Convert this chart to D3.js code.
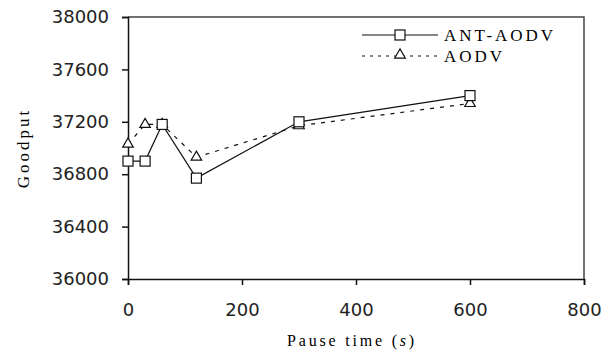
<!DOCTYPE html>
<html>
<head>
<meta charset="utf-8">
<script src="https://cdn.jsdelivr.net/npm/d3@7"></script>
<style>
  body { margin: 0; background: #fff; }
  .tick text { font-family: "DejaVu Sans", Tahoma, sans-serif; font-size: 18px; fill: #222; }
</style>
</head>
<body>
<div id="chart"></div>
<script>
const pauseTimes = [0, 30, 60, 120, 300, 600];
const antAodv = [36900, 36900, 37180, 36770, 37200, 37400];
const aodv = [37030, 37180, 37180, 36930, 37170, 37340];
const xTicks = [0, 200, 400, 600, 800];
const yTicks = [36000, 36400, 36800, 37200, 37600, 38000];

const width = 612, height = 354;
const margin = {top: 17, right: 28, bottom: 75, left: 128};

const svg = d3.select("#chart")
  .append("svg")
  .attr("width", width)
  .attr("height", height);

const x = d3.scaleLinear()
  .domain([0, 800])
  .range([margin.left, width - margin.right]);

const y = d3.scaleLinear()
  .domain([36000, 38000])
  .range([height - margin.bottom, margin.top]);

// frame top + right
svg.append("path")
  .attr("d", `M${x(0)},${y(38000)}H${x(800)}V${y(36000)}`)
  .attr("fill", "none")
  .attr("stroke", "#444")
  .attr("stroke-width", 1.5);

// axes
svg.append("g")
  .attr("transform", `translate(0, ${y(36000)})`)
  .call(d3.axisBottom(x).tickValues(xTicks).tickSize(6).tickPadding(18))
  .call(g => g.select(".domain").attr("stroke", "#111").attr("stroke-width", 1.5))
  .call(g => g.selectAll(".tick line").attr("stroke", "#111").attr("stroke-width", 1.5));

svg.append("g")
  .attr("transform", `translate(${x(0)}, 0)`)
  .call(d3.axisLeft(y).tickValues(yTicks).tickSize(6).tickPadding(13).tickFormat(d3.format("d")))
  .call(g => g.select(".domain").attr("stroke", "#111").attr("stroke-width", 1.5))
  .call(g => g.selectAll(".tick line").attr("stroke", "#111").attr("stroke-width", 1.5));

// axis titles
svg.append("text")
  .attr("transform", `translate(29, ${(y(36000) + y(38000)) / 2}) rotate(-90)`)
  .attr("text-anchor", "middle")
  .style("font-family", "'Liberation Serif', serif")
  .style("font-size", "17px")
  .style("letter-spacing", "3px")
  .text("Goodput");

const xt = svg.append("text")
  .attr("x", 352)
  .attr("y", 346)
  .attr("text-anchor", "middle")
  .style("font-family", "'Liberation Serif', serif")
  .style("font-size", "16px")
  .style("letter-spacing", "2.8px");
xt.append("tspan").text("Pause time (");
xt.append("tspan").style("font-style", "italic").text("s");
xt.append("tspan").text(")");

const line = d3.line()
  .x((d, i) => x(pauseTimes[i]))
  .y(d => y(d));

// AODV dashed
svg.append("path")
  .datum(aodv)
  .attr("fill", "none")
  .attr("stroke", "#111")
  .attr("stroke-width", 1.2)
  .attr("stroke-dasharray", "4,6")
  .attr("d", line);

// ANT-AODV solid
svg.append("path")
  .datum(antAodv)
  .attr("fill", "none")
  .attr("stroke", "#111")
  .attr("stroke-width", 1.2)
  .attr("d", line);

const tri = d3.symbol().type(d3.symbolTriangle).size(48);

svg.append("g")
  .selectAll("path")
  .data(aodv)
  .join("path")
    .attr("transform", (d, i) => `translate(${x(pauseTimes[i])}, ${y(d)})`)
    .attr("d", tri)
    .attr("fill", "#fff")
    .attr("stroke", "#111")
    .attr("stroke-width", 1.2);

svg.append("g")
  .selectAll("rect")
  .data(antAodv)
  .join("rect")
    .attr("x", (d, i) => x(pauseTimes[i]) - 5)
    .attr("y", d => y(d) - 5)
    .attr("width", 10)
    .attr("height", 10)
    .attr("fill", "#fff")
    .attr("stroke", "#111")
    .attr("stroke-width", 1.2);

// legend
const lg = svg.append("g");
lg.append("line").attr("x1", 362).attr("x2", 438).attr("y1", 35).attr("y2", 35)
  .attr("stroke", "#111").attr("stroke-width", 1.2);
lg.append("rect").attr("x", 395).attr("y", 30).attr("width", 10).attr("height", 10)
  .attr("fill", "#fff").attr("stroke", "#111").attr("stroke-width", 1.2);
lg.append("text").attr("x", 444).attr("y", 41)
  .style("font-family", "'Liberation Serif', serif").style("font-size", "17px")
  .style("letter-spacing", "3px")
  .text("ANT-AODV");

lg.append("line").attr("x1", 362).attr("x2", 438).attr("y1", 56).attr("y2", 56)
  .attr("stroke", "#111").attr("stroke-width", 1.2).attr("stroke-dasharray", "3,5");
lg.append("path").attr("transform", "translate(400, 55)").attr("d", tri)
  .attr("fill", "#fff").attr("stroke", "#111").attr("stroke-width", 1.2);
lg.append("text").attr("x", 444).attr("y", 62)
  .style("font-family", "'Liberation Serif', serif").style("font-size", "17px")
  .style("letter-spacing", "3px")
  .text("AODV");
</script>
</body>
</html>
